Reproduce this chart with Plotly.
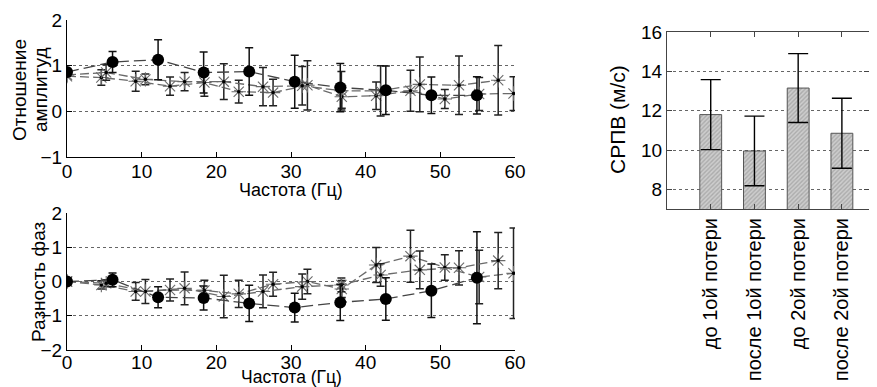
import plotly.graph_objects as go

# ---------------- data ----------------
# harmonic frequencies (Hz) of the three recordings
f1 = [0, 6.1, 12.2, 18.3, 24.4, 30.5, 36.6, 42.7, 48.8, 54.9]
f2 = [0, 5.25, 10.5, 15.75, 21.0, 26.25, 31.5, 36.75, 42.0, 47.25, 52.5, 57.75]
f3 = [0, 4.6, 9.2, 13.8, 18.4, 23.0, 27.6, 32.2, 36.8, 41.4, 46.0, 50.6, 55.2, 59.8]

# amplitude ratio
amp1 = [0.86, 1.08, 1.13, 0.85, 0.87, 0.65, 0.52, 0.46, 0.35, 0.35]
amp1_err = [0, 0.23, 0.44, 0.45, 0.52, 0.58, 0.53, 0.53, 0.40, 0.41]
amp2 = [0.80, 0.85, 0.70, 0.65, 0.65, 0.54, 0.56, 0.45, 0.45, 0.59, 0.57, 0.68]
amp2_err = [0, 0.17, 0.12, 0.20, 0.39, 0.42, 0.42, 0.42, 0.55, 0.60, 0.64, 0.76]
amp3 = [0.77, 0.74, 0.66, 0.55, 0.63, 0.43, 0.41, 0.57, 0.32, 0.34, 0.45, 0.27, 0.38, 0.39]
amp3_err = [0, 0.17, 0.22, 0.20, 0.30, 0.25, 0.29, 0.54, 0.25, 0.30, 0.45, 0.21, 0.36, 0.37]

# phase difference
ph1 = [0, 0.05, -0.46, -0.48, -0.64, -0.76, -0.61, -0.51, -0.27, 0.11]
ph1_err = [0, 0.20, 0.31, 0.35, 0.53, 0.42, 0.53, 0.62, 0.78, 1.34]
ph2 = [0, -0.05, -0.29, -0.20, -0.44, -0.29, -0.15, -0.10, 0.19, 0.34, 0.40, 0.61]
ph2_err = [0, 0.10, 0.35, 0.48, 0.62, 0.48, 0.37, 0.20, 0.33, 0.55, 0.50, 0.82]
ph3 = [0, -0.10, -0.29, -0.25, -0.26, -0.36, -0.08, 0.0, -0.22, 0.48, 0.74, 0.41, 0.13, 0.24]
ph3_err = [0, 0.12, 0.26, 0.32, 0.30, 0.40, 0.35, 0.36, 0.25, 0.51, 0.76, 0.37, 0.78, 1.32]

# pulse wave velocity bar chart
groups = ["до 1ой потери", "после 1ой потери", "до 2ой потери", "после 2ой потери"]
pwv = [11.8, 9.95, 13.15, 10.85]
pwv_err = [1.78, 1.77, 1.75, 1.78]

# axis titles
freq_title = "Частота (Гц)"
amp_title_lines = ["Отношение", "амплитуд"]
phase_title = "Разность фаз"
pwv_title = "СРПВ (м/с)"

# ---------------- figure ----------------
# the page has an 8px body margin, so the figure is a bit smaller than the window
OFF = 8
W, H = 877 - OFF, 387 - OFF
FONT = "Liberation Sans, Arial, sans-serif"


def px_x(p):
    return (p - OFF) / W


def px_y(p):
    return 1 - (p - OFF) / H


fig = go.Figure()


def add_series(x, y, err, xa, ya, kind):
    if kind == "circle":
        fig.add_trace(go.Scatter(
            x=x, y=y, xaxis=xa, yaxis=ya, mode="lines+markers",
            line=dict(color="#444444", width=1.3, dash="12px,5px"),
            marker=dict(symbol="circle", size=12, color="black"),
            error_y=dict(type="data", array=err, visible=True,
                         color="#111111", thickness=1.5, width=4),
            showlegend=False))
    else:
        fig.add_trace(go.Scatter(
            x=x, y=y, xaxis=xa, yaxis=ya, mode="lines+markers",
            line=dict(color="#6a6a6a", width=1.3, dash="9px,4px"),
            marker=dict(symbol="asterisk-open", size=12,
                        line=dict(color="#7a7a7a", width=1.1)),
            error_y=dict(type="data", array=err, visible=True,
                         color="#222222", thickness=1.5, width=4),
            showlegend=False))
        fig.add_trace(go.Scatter(
            x=x, y=y, xaxis=xa, yaxis=ya, mode="markers",
            marker=dict(symbol="circle", size=3.5, color="black"),
            hoverinfo="skip", showlegend=False))


for x, y, e, k in [(f3, amp3, amp3_err, "star"), (f2, amp2, amp2_err, "star"),
                   (f1, amp1, amp1_err, "circle")]:
    add_series(x, y, e, "x", "y", k)
for x, y, e, k in [(f3, ph3, ph3_err, "star"), (f2, ph2, ph2_err, "star"),
                   (f1, ph1, ph1_err, "circle")]:
    add_series(x, y, e, "x2", "y2", k)

fig.add_trace(go.Bar(
    x=groups, y=pwv, xaxis="x3", yaxis="y3", width=0.5,
    marker=dict(color="#c8c8c8",
                line=dict(color="#555555", width=1),
                pattern=dict(shape="/", fgcolor="#8a8a8a", bgcolor="#cdcdcd",
                             size=3, solidity=0.45)),
    error_y=dict(type="data", array=pwv_err, visible=True,
                 color="black", thickness=1.4, width=10),
    showlegend=False))

tickfont = dict(family=FONT, size=19, color="black")

left_x = dict(range=[0, 60], tickvals=[0, 10, 20, 30, 40, 50, 60],
              showline=True, linecolor="black", linewidth=1, mirror=False,
              ticks="inside", ticklen=5, tickcolor="black", showgrid=False,
              zeroline=False, tickfont=tickfont, automargin=False)
left_y = dict(showline=True, linecolor="black", linewidth=1, mirror=False,
              ticks="inside", ticklen=5, tickcolor="black",
              showgrid=True, gridcolor="#666666", griddash="dot", gridwidth=1,
              zeroline=False, tickfont=tickfont, automargin=False)


def title_ann(text, x, y, angle=0, size=19):
    return dict(text=text, xref="paper", yref="paper", x=px_x(x), y=px_y(y),
                xanchor="center", yanchor="middle", showarrow=False,
                textangle=angle, font=dict(family=FONT, size=size, color="black"))


fig.update_layout(
    width=W, height=H, margin=dict(l=0, r=0, t=0, b=0, autoexpand=False),
    paper_bgcolor="white", plot_bgcolor="white",
    font=dict(family=FONT, color="black"),
    xaxis=dict(domain=[px_x(67), px_x(515)], anchor="y", ticklabelstandoff=-3, **left_x),
    yaxis=dict(domain=[px_y(157), px_y(20)], anchor="x", range=[-1, 2],
               tickvals=[-1, 0, 1, 2], **left_y),
    xaxis2=dict(domain=[px_x(67), px_x(515)], anchor="y2", ticklabelstandoff=-5, **left_x),
    yaxis2=dict(domain=[px_y(350), px_y(213)], anchor="x2", range=[-2, 2],
                tickvals=[-2, -1, 0, 1, 2], **left_y),
    xaxis3=dict(domain=[px_x(667), px_x(869)], anchor="y3", range=[-1, 3.62],
                showline=True, linecolor="#444444", linewidth=1, mirror="ticks",
                ticks="inside", ticklen=5, tickcolor="#444444",
                tickangle=-90, tickfont=dict(family=FONT, size=20, color="black"),
                showgrid=False, zeroline=False, automargin=False),
    yaxis3=dict(domain=[px_y(209), px_y(32)], anchor="x3", range=[7, 16],
                tickvals=[8, 10, 12, 14, 16],
                showline=True, linecolor="#444444", linewidth=1, mirror="ticks",
                ticks="inside", ticklen=5, tickcolor="#444444",
                showgrid=True, gridcolor="#666666", griddash="dot", gridwidth=1,
                zeroline=False, tickfont=tickfont, automargin=False),
    annotations=[
        title_ann(freq_title, 291, 190, size=18),
        title_ann(freq_title, 291, 377, size=17.5),
        title_ann(amp_title_lines[0], 20, 90, angle=-90),
        title_ann(amp_title_lines[1], 41, 90, angle=-90),
        title_ann(phase_title, 38, 282, angle=-90),
        title_ann(pwv_title, 618, 120, angle=-90, size=21),
    ],
)

fig.write_html("out.html")
